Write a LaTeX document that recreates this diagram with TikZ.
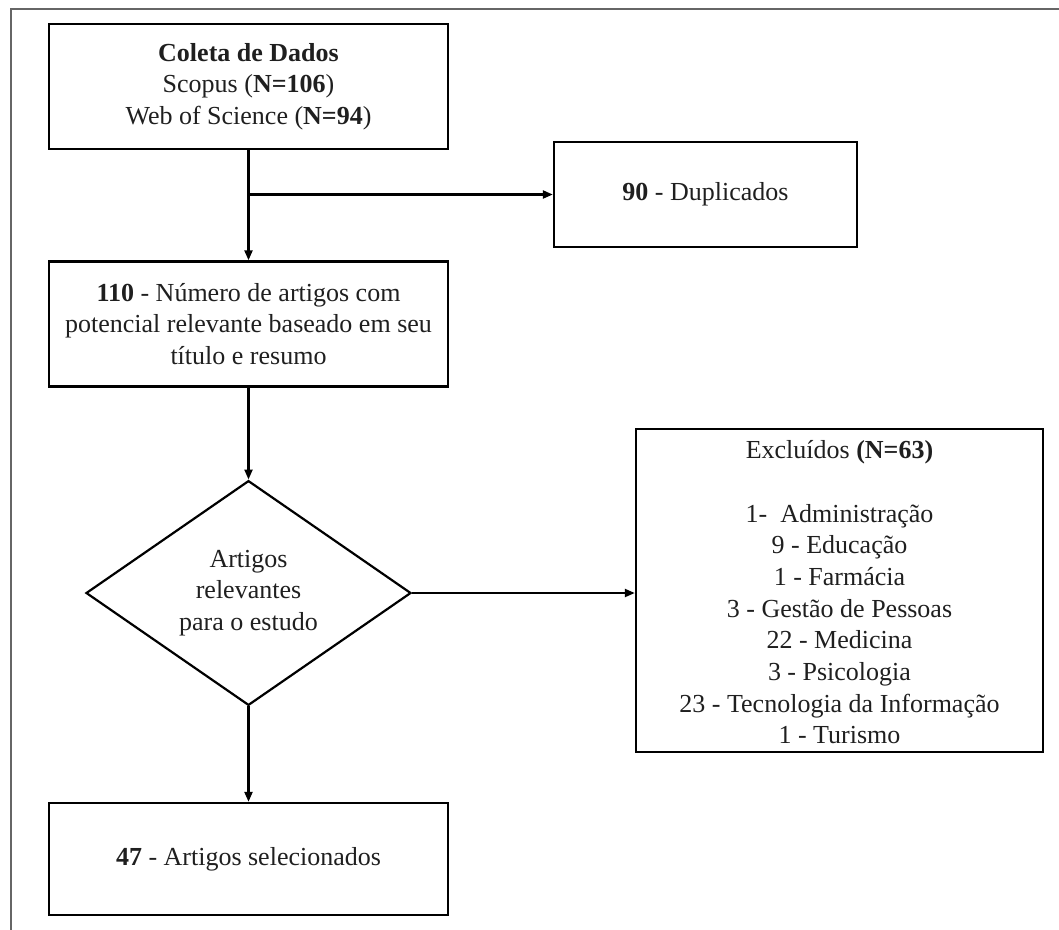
\documentclass[tikz,border=0pt]{standalone}
\usepackage{fontspec}
\setmainfont{Liberation Serif}
\usetikzlibrary{shapes.geometric,arrows.meta}
\begin{document}
\begin{tikzpicture}[x=1pt,y=-1pt,
  txt/.style={font=\fontsize{26}{31.7}\selectfont, text=black!88, align=center},
  boxnode/.style={txt, draw=black, line width=2.4pt, rectangle, inner sep=0pt},
  decis/.style={txt, draw=black, line width=2.2pt, diamond, inner sep=0pt},
  conn/.style={line width=2.2pt, -{Triangle[length=10pt,width=8pt]}},
  frameline/.style={draw=black!60, line width=1.8pt}
]
\useasboundingbox (0,0) rectangle (1059,929);
\draw[frameline] (11,935) -- (11,9) -- (1065,9);

\node[boxnode, minimum width=399pt, minimum height=125pt] (coleta) at (248.5,86.5)
  {\textbf{Coleta de Dados}\\Scopus (\textbf{N=106})\\Web of Science (\textbf{N=94})};
\node[boxnode, minimum width=303pt, minimum height=105pt] (dup) at (705.5,194.5)
  {\textbf{90} - Duplicados};
\node[boxnode, minimum width=399pt, minimum height=125pt] (pot) at (248.5,324)
  {\textbf{110} - Número de artigos com\\potencial relevante baseado em seu\\título e resumo};
\node[decis, minimum width=325pt, minimum height=212pt] (rel) at (248.5,593)
  {Artigos\\relevantes\\para o estudo};
\node[boxnode, minimum width=407pt, minimum height=323pt] (exc) at (839.5,590.5) {};
\node[txt, anchor=north] (exctxt) at (839.5,437)
  {Excluídos \textbf{(N=63)}\\[31.7pt]1-\ \ Administração\\9 - Educação\\1 - Farmácia\\3 - Gestão de Pessoas\\22 - Medicina\\3 - Psicologia\\23 - Tecnologia da Informação\\1 - Turismo};
\node[boxnode, minimum width=399pt, minimum height=112pt] (sel) at (248.5,859)
  {\textbf{47} - Artigos selecionados};

\coordinate (branch) at (coleta.south |- dup.west);
\draw[conn] (coleta.south) -- (pot.north);
\draw[conn] (branch) -- (dup.west);
\draw[conn] (pot.south) -- (rel.north);
\draw[conn] (rel.east) -- (rel.east -| exc.west);
\draw[conn] (rel.south) -- (sel.north);
\end{tikzpicture}
\end{document}
